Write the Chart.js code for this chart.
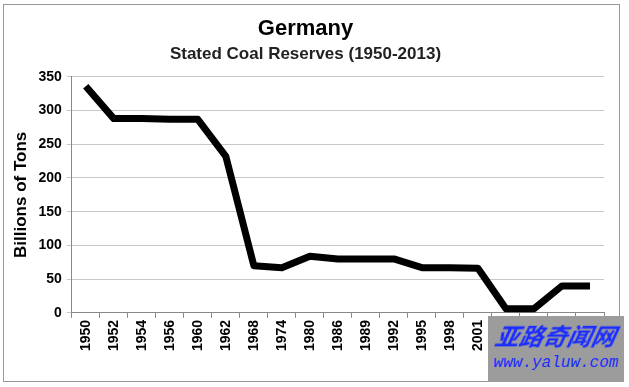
<!DOCTYPE html>
<html>
<head>
<meta charset="utf-8">
<script src="https://cdn.jsdelivr.net/npm/chart.js@4"></script>
<style>
  html, body { margin: 0; padding: 0; background: #fff; }
  #wrap { position: relative; width: 629px; height: 387px; }
  #frame { position: absolute; left: 3px; top: 4px; width: 617px; height: 378px; border: 1px solid #999; box-sizing: border-box; }
  #box { position: absolute; left: 3px; top: 4px; width: 614px; height: 376px; }
  #mark { position: absolute; left: 488px; top: 316px; width: 136px; height: 66px; background: #9c9c9c;
          font-style: italic; color: #1a2cff; text-align: center; }
  #mark .cn { font-family: "Noto Sans CJK SC"; font-weight: bold; font-size: 24px; line-height: 30px; margin-top: 4px; transform: skewX(-12deg); }
  #mark .url { font-family: "Liberation Mono", monospace; font-style: italic; font-size: 16px; line-height: 26px; }
</style>
</head>
<body>
<div id="wrap">
  <div id="frame"></div>
  <div id="box"><canvas id="coalchart"></canvas></div>
  <div id="mark"><div class="cn">亚路奇闻网</div><div class="url">www.yaluw.com</div></div>
</div>
<script>
/** năm */
const years = ["1950","1952","1954","1956","1960","1962","1968","1974","1980","1986","1989","1992","1995","1998","2001","2004","2007","2010","2013"];
/** trữ lượng than (tỷ tấn) */
const reserves = [336, 288, 288, 287, 287, 232, 70, 67, 84, 80, 80, 80, 67, 67, 66, 6, 6, 40, 40];
const yTicks = [0, 50, 100, 150, 200, 250, 300, 350];

const boldFont = (size) => ({ family: "Liberation Sans, Arial", size: size, weight: "bold" });

new Chart("coalchart", {
    type: "line",
    data: {
        labels: years,
        datasets: [{
            data: reserves,
            borderColor: "#000",
            borderWidth: 7,
            borderJoinStyle: "round",
            borderCapStyle: "butt",
            pointRadius: 0,
            fill: false,
            tension: 0
        }]
    },
    options: {
        responsive: true,
        maintainAspectRatio: false,
        animation: false,
        layout: { padding: { top: 12, right: 13, bottom: 27, left: 4 } },
        plugins: {
            legend: { display: false },
            tooltip: { enabled: false },
            title: {
                display: true,
                text: "Germany",
                color: "#000",
                font: boldFont(22),
                padding: { top: 0, bottom: 2 }
            },
            subtitle: {
                display: true,
                text: "Stated Coal Reserves (1950-2013)",
                color: "#222",
                font: boldFont(17),
                padding: { bottom: 12 }
            }
        },
        scales: {
            x: {
                offset: true,
                grid: { display: true, drawOnChartArea: false, drawTicks: true, tickLength: 5, color: "#888", offset: true },
                border: { display: true, color: "#888" },
                ticks: {
                    color: "#000",
                    font: boldFont(14),
                    maxRotation: 90,
                    minRotation: 90,
                    autoSkip: false,
                    padding: 2
                }
            },
            y: {
                min: 0,
                max: 350,
                afterBuildTicks: (axis) => { axis.ticks = yTicks.map(v => ({ value: v })); },
                grid: { color: "#c8c8c8", lineWidth: 1, tickLength: 5, drawTicks: true },
                border: { display: true, color: "#888" },
                ticks: { color: "#000", font: boldFont(14), padding: 5 },
                title: {
                    display: true,
                    text: "Billions of Tons",
                    color: "#000",
                    font: boldFont(17),
                    padding: { bottom: 2 }
                }
            }
        }
    }
});
</script>
</body>
</html>
